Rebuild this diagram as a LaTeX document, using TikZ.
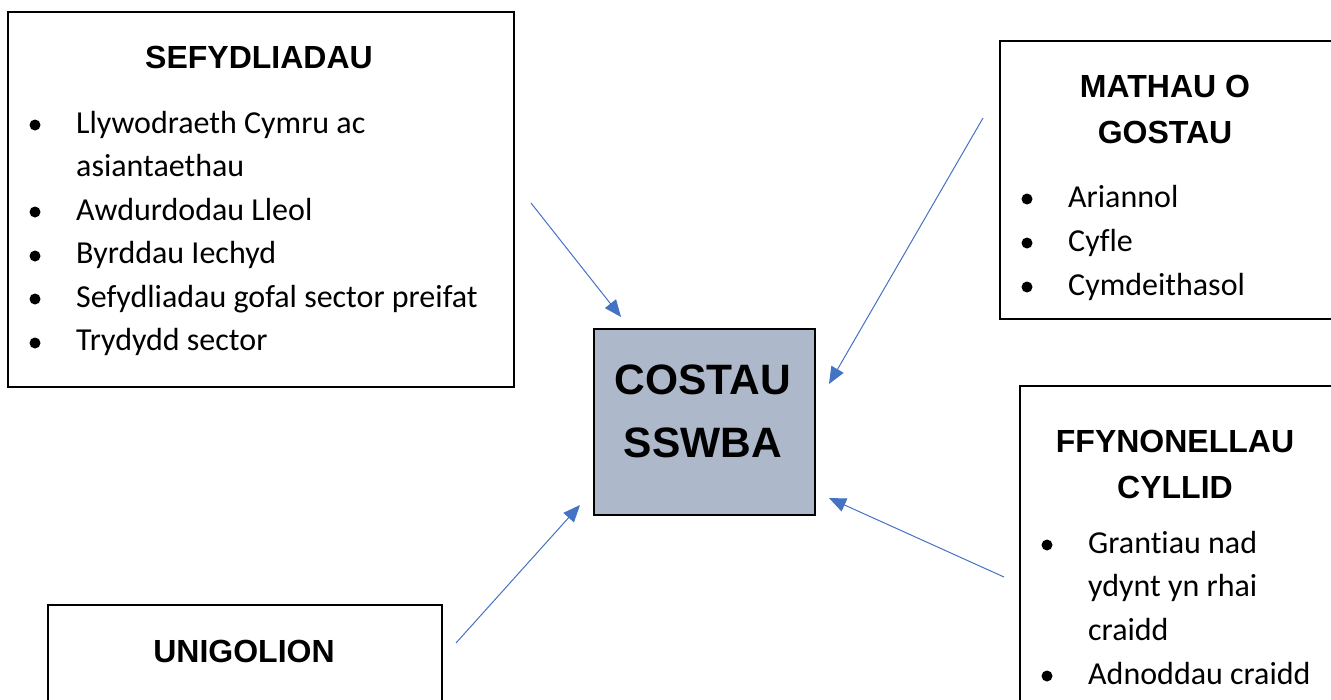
\documentclass[tikz,border=0pt]{standalone}
\usepackage{fontspec}
\usepackage{tikz}
\usetikzlibrary{
  positioning,
  arrows.meta
}
\newfontfamily\headfam{Liberation Sans}
\newfontfamily\itemfam{Carlito}[Ligatures={NoCommon}]
\definecolor{arrowblue}{HTML}{4472C4}
\definecolor{centrefill}{HTML}{ADB9CA}

\tikzset{
  box/.style={draw, line width=1.5pt, rectangle, anchor=north west, inner sep=0pt},
  head/.style={font=\headfam\bfseries\fontsize{32}{44}\selectfont, anchor=base, inner sep=0pt},
  bighead/.style={font=\headfam\bfseries\fontsize{42.5}{60}\selectfont, anchor=base, inner sep=0pt},
  item/.style={font=\itemfam\fontsize{32}{44}\selectfont, anchor=base west, inner sep=0pt},
  dot/.style={fill, circle, inner sep=0pt, minimum size=11pt},
  arr/.style={draw=arrowblue, line width=1pt, -{Triangle[length=17pt,width=14pt]}}
}

\begin{document}
\begin{tikzpicture}[x=1pt, y=-1pt]
    \useasboundingbox (0,0) rectangle (1331,699);

    % boxes
    \node[box, minimum width=506pt, minimum height=375pt] (sef) at (7,11) {};
    \node[box, minimum width=345pt, minimum height=278pt] (math) at (999,40) {};
    \node[box, fill=centrefill, line width=2pt, minimum width=221pt, minimum height=186pt] (cost) at (593,328) {};
    \node[box, minimum width=330pt, minimum height=330pt] (ffyn) at (1019,385) {};
    \node[box, minimum width=394pt, minimum height=120pt] (unig) at (47,604) {};

    % sefydliadau
    \node[head] (sefhead) at (259,68) {SEFYDLIADAU};
    \foreach \y in {125,212,256,299,343}
      \node[dot] at (35,\y) {};
    \foreach \t [count=\i from 0] in {Llywodraeth Cymru ac, asiantaethau, Awdurdodau Lleol,
        Byrddau Iechyd, Sefydliadau gofal sector preifat, Trydydd sector}
      \node[item] at (76,133+43.5*\i) {\t};

    % mathau o gostau
    \node[head] (mathhead1) at (1165,97) {MATHAU O};
    \node[head] (mathhead2) at (1165,143) {GOSTAU};
    \foreach \t [count=\i from 0] in {Ariannol, Cyfle, Cymdeithasol} {
      \node[dot] at (1027,199+44*\i) {};
      \node[item] at (1068,207+44*\i) {\t};
    }

    % costau sswba
    \node[bighead] (costhead1) at (703,394) {COSTAU};
    \node[bighead] (costhead2) at (703,457) {SSWBA};

    % ffynonellau cyllid
    \node[head] (ffynhead1) at (1175,452) {FFYNONELLAU};
    \node[head] (ffynhead2) at (1175,498) {CYLLID};
    \foreach \y in {545,676}
      \node[dot] at (1047,\y) {};
    \foreach \t [count=\i from 0] in {Grantiau nad, ydynt yn rhai, craidd, Adnoddau craidd}
      \node[item] at (1088,553+43.7*\i) {\t};

    % unigolion
    \node[head] (unighead) at (244,662) {UNIGOLION};

    % arrows
    \coordinate (sefout) at (531,203);
    \coordinate (sefin) at (621,317);
    \coordinate (mathout) at (983,118);
    \coordinate (mathin) at (829,384);
    \coordinate (unigout) at (456,643);
    \coordinate (unigin) at (580,505);
    \coordinate (ffynout) at (1004,577);
    \coordinate (ffynin) at (829,498);
    \draw[arr] (sefout) -- (sefin);
    \draw[arr] (mathout) -- (mathin);
    \draw[arr] (unigout) -- (unigin);
    \draw[arr] (ffynout) -- (ffynin);
\end{tikzpicture}
\end{document}
